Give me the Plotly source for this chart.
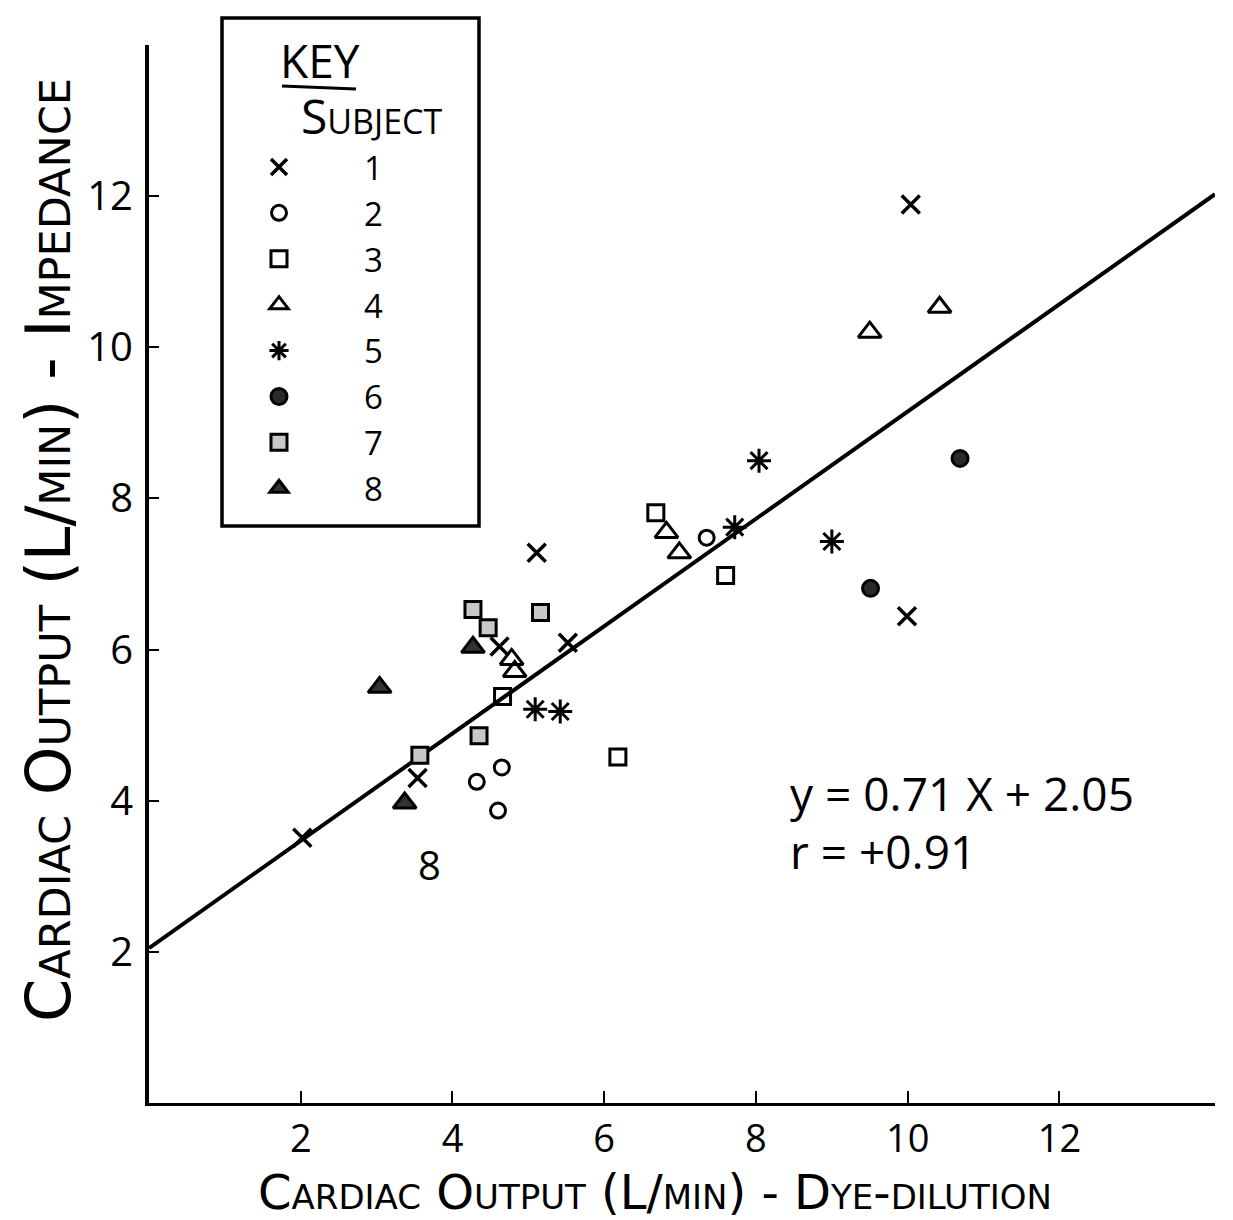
import plotly.graph_objects as go

# Cardiac output: dye-dilution (x) vs. impedance (y), per subject
subject_ids = ["1", "2", "3", "4", "5", "6", "7", "8"]

s1_x = [2.02, 3.54, 5.11, 4.62, 5.52, 10.04, 9.99]
s1_y = [3.51, 4.30, 7.28, 6.04, 6.09, 11.89, 6.44]

s2_x = [4.32, 4.65, 4.60, 7.35]
s2_y = [4.25, 4.44, 3.87, 7.48]

s3_x = [6.68, 7.60, 4.66, 6.18]
s3_y = [7.81, 6.98, 5.38, 4.58]

s4_x = [6.82, 6.99, 9.50, 10.42, 4.78, 4.82]
s4_y = [7.55, 7.28, 10.20, 10.53, 5.87, 5.71]

s5_x = [8.04, 7.72, 9.00, 5.09, 5.42]
s5_y = [8.50, 7.62, 7.43, 5.21, 5.18]

s6_x = [10.69, 9.51]
s6_y = [8.53, 6.81]

s7_x = [4.27, 4.47, 5.16, 4.35, 3.57]
s7_y = [6.53, 6.29, 6.49, 4.86, 4.60]

s8_x = [4.27, 3.04, 3.37]
s8_y = [6.03, 5.50, 3.97]

# Regression: y = 0.71 x + 2.05
slope = 0.71
intercept = 2.05
fit_x = [0.0, 14.05]
fit_y = [slope * v + intercept for v in fit_x]

tick_vals = [2, 4, 6, 8, 10, 12]
tick_text = ["2", "4", "6", "8", "10", "12"]

FONT = "Open Sans"
TITLE_FONT = "DejaVu Sans"
INK = "black"

# plot-area geometry (pixels) used to place the key and labels in paper units
FIG_W, FIG_H = 1233, 1220
M_L, M_R, M_T, M_B = 149, 18, 45, 117
PW = FIG_W - M_L - M_R
PH = FIG_H - M_T - M_B


def px(x):
    return (x - M_L) / PW


def py(y):
    return (FIG_H - M_B - y) / PH


series = [
    (s1_x, s1_y, dict(symbol="x-thin-open", size=18, line=dict(width=3.5, color=INK), color=INK)),
    (s2_x, s2_y, dict(symbol="circle-open", size=15, line=dict(width=3, color=INK), color=INK)),
    (s3_x, s3_y, dict(symbol="square-open", size=16, line=dict(width=3, color=INK), color=INK)),
    (s4_x, s4_y, dict(symbol="triangle-up-open", size=20, line=dict(width=3, color=INK), color=INK)),
    (s5_x, s5_y, dict(symbol="asterisk-open", size=20, line=dict(width=3, color=INK), color=INK)),
    (s6_x, s6_y, dict(symbol="circle", size=16, line=dict(width=3, color=INK), color="#2a2a2a")),
    (s7_x, s7_y, dict(symbol="square", size=16, line=dict(width=3, color=INK), color="#c8c8c8")),
    (s8_x, s8_y, dict(symbol="triangle-up", size=20, line=dict(width=3, color=INK), color="#333")),
]

fig = go.Figure()

fig.add_trace(go.Scatter(
    x=fit_x, y=fit_y, mode="lines",
    line=dict(color=INK, width=4), showlegend=False, hoverinfo="skip",
))

for sid, (xs, ys, mk) in zip(subject_ids, series):
    fig.add_trace(go.Scatter(x=xs, y=ys, mode="markers", name=sid, marker=mk))


def note(text, x, y, size, **kw):
    font = dict(family=FONT, size=size, color=INK)
    font.update(kw.pop("font", {}))
    return dict(text=text, x=x, y=y, showarrow=False,
                xanchor=kw.pop("xanchor", "center"), yanchor=kw.pop("yanchor", "middle"),
                font=font, **kw)


annotations = [
    # axis titles
    note("Cardiac Output (L/min) - Impedance", px(48), py(550), 62,
         xref="paper", yref="paper", textangle=-90,
         font=dict(family=TITLE_FONT, variant="small-caps")),
    note("Cardiac Output (L/min) - Dye-dilution", px(655), py(1192), 48,
         xref="paper", yref="paper",
         font=dict(family=TITLE_FONT, variant="small-caps")),
    # regression statistics
    note(f"y = {slope} X + {intercept:.2f}", px(788), py(793), 46,
         xref="paper", yref="paper", xanchor="left"),
    note("r = +0.91", px(788), py(851), 46,
         xref="paper", yref="paper", xanchor="left"),
    # stray subject label
    note("8", 3.70, 3.15, 40),
    # key header
    note("KEY", px(320), py(60), 46, xref="paper", yref="paper"),
    note("Subject", px(372), py(116), 48, xref="paper", yref="paper",
         font=dict(variant="small-caps")),
]

shapes = [
    dict(type="rect", xref="paper", yref="paper", x0=px(222), x1=px(479),
         y0=py(526), y1=py(18), line=dict(color=INK, width=3.5)),
    dict(type="line", xref="paper", yref="paper", x0=px(282), x1=px(356),
         y0=py(86), y1=py(89), line=dict(color=INK, width=3)),
]

fig.update_layout(
    width=FIG_W, height=FIG_H,
    margin=dict(l=M_L, r=M_R, t=M_T, b=M_B),
    paper_bgcolor="white", plot_bgcolor="white",
    font=dict(family=FONT, color=INK),
    annotations=annotations, shapes=shapes,
    legend=dict(
        x=px(194), y=py(139), xanchor="left", yanchor="top",
        font=dict(family=FONT, size=33, color=INK),
        itemwidth=160, tracegroupgap=0,
        bgcolor="rgba(0,0,0,0)", borderwidth=0,
    ),
    xaxis=dict(
        range=[0, 14.05], showgrid=False, zeroline=False,
        showline=True, linecolor=INK, linewidth=3,
        ticks="inside", ticklen=12, tickwidth=2, tickcolor=INK,
        tickvals=tick_vals, ticktext=tick_text,
        tickfont=dict(family=FONT, size=38, color=INK),
    ),
    yaxis=dict(
        range=[0, 14.0], showgrid=False, zeroline=False,
        showline=True, linecolor=INK, linewidth=4,
        ticks="inside", ticklen=10, tickwidth=2, tickcolor=INK,
        tickvals=tick_vals, ticktext=tick_text,
        tickfont=dict(family=FONT, size=40, color=INK),
        ticklabelstandoff=4,
    ),
)

fig.write_html("out.html")
